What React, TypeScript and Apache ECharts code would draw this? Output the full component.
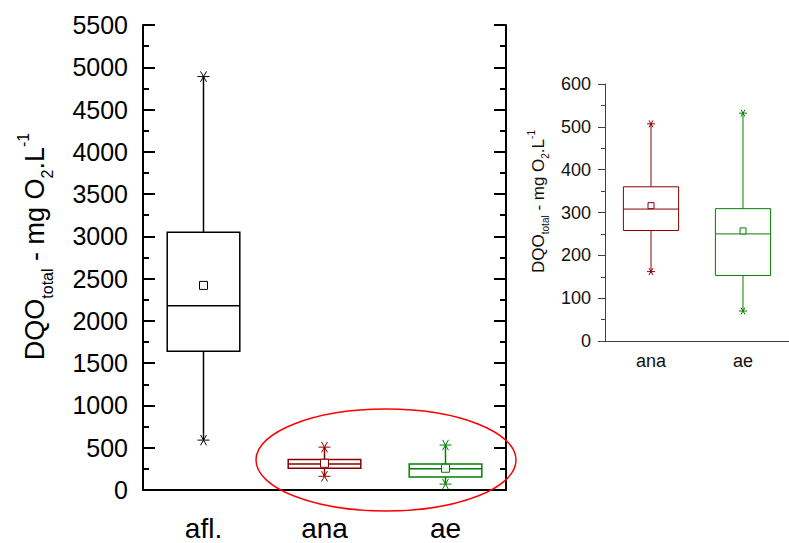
import React, { useEffect, useRef } from "react";
import * as echarts from "echarts";

const mainCategories = ["afl.", "ana", "ae"];
const insetCategories = ["ana", "ae"];
const minValues = [590, 162, 70];
const q1Values = [1640, 258, 153];
const medianValues = [2180, 308, 250];
const q3Values = [3050, 360, 309];
const maxValues = [4890, 507, 532];
const meanValues = [2420, 316, 257];
const mainTicks = { min: 0, max: 5500, interval: 500 };
const insetTicks = { min: 0, max: 600, interval: 100 };
const boxColors = ["#000000", "#8b0000", "#008000"];

const FONT = 'Arial, "Liberation Sans", sans-serif';

function makeRender(colors: string[], lw: number, star: number, sq: number) {
  return (params: any, api: any) => {
    const idx = api.value(0);
    const color = colors[params.dataIndex];
    const w = api.size([1, 0])[0] * 0.6;
    const x = api.coord([idx, 0])[0];
    const y = (k: number) => api.coord([idx, api.value(k)])[1];
    const yMin = y(1), yQ1 = y(2), yMed = y(3), yQ3 = y(4), yMax = y(5), yMean = y(6);
    const ls = { stroke: color, lineWidth: lw, fill: "none" };
    const starLines = (cy: number) => {
      const dx = star * 0.5, dy = star * 0.866;
      return [
        { type: "line", shape: { x1: x - star, y1: cy, x2: x + star, y2: cy }, style: { stroke: color, lineWidth: 1 } },
        { type: "line", shape: { x1: x - dx, y1: cy - dy, x2: x + dx, y2: cy + dy }, style: { stroke: color, lineWidth: 1 } },
        { type: "line", shape: { x1: x - dx, y1: cy + dy, x2: x + dx, y2: cy - dy }, style: { stroke: color, lineWidth: 1 } },
      ];
    };
    return {
      type: "group",
      children: [
        { type: "line", shape: { x1: x, y1: yQ3, x2: x, y2: yMax }, style: ls },
        { type: "line", shape: { x1: x, y1: yQ1, x2: x, y2: yMin }, style: ls },
        { type: "rect", shape: { x: x - w / 2, y: yQ3, width: w, height: yQ1 - yQ3 }, style: ls },
        { type: "line", shape: { x1: x - w / 2, y1: yMed, x2: x + w / 2, y2: yMed }, style: ls },
        { type: "rect", shape: { x: x - sq / 2, y: yMean - sq / 2, width: sq, height: sq }, style: { stroke: color, lineWidth: 1, fill: "#fff" } },
        ...starLines(yMax),
        ...starLines(yMin),
      ],
    };
  };
}

export default function App() {
  const ref = useRef<HTMLDivElement>(null);
  useEffect(() => {
    if (!ref.current) return;
    const chart = echarts.init(ref.current, null, { renderer: "svg" });
    const mainData = mainCategories.map((_, i) => [
      i, minValues[i], q1Values[i], medianValues[i], q3Values[i], maxValues[i], meanValues[i],
    ]);
    const insetData = insetCategories.map((_, j) => {
      const i = j + 1;
      return [j, minValues[i], q1Values[i], medianValues[i], q3Values[i], maxValues[i], meanValues[i]];
    });
    const mainName = "{a|DQO}{sub|total}{a| - mg O}{sub|2}{a|.L}{sup|-1}";
    const plain = (v: number) => String(v);
    chart.setOption({
      animation: false,
      backgroundColor: "#ffffff",
      textStyle: { fontFamily: FONT },
      grid: [
        { left: 143, right: 283, top: 25, bottom: 53 },
        { left: 605, right: -11, top: 84, bottom: 202 },
      ],
      xAxis: [
        {
          gridIndex: 0, type: "category", data: mainCategories, position: "bottom",
          axisLine: { lineStyle: { color: "#000", width: 2 } },
          axisTick: { alignWithLabel: true, inside: false, length: 12, lineStyle: { color: "#000", width: 2 } },
          axisLabel: { fontSize: 28, color: "#000", margin: 24, fontFamily: FONT },
          splitLine: { show: false },
        },
        {
          gridIndex: 0, type: "category", data: mainCategories, position: "top",
          axisLine: { lineStyle: { color: "#000", width: 2 } },
          axisTick: { alignWithLabel: true, inside: true, length: 2, lineStyle: { color: "#000", width: 2 } },
          axisLabel: { show: false },
          splitLine: { show: false },
        },
        {
          gridIndex: 1, type: "category", data: insetCategories, position: "bottom",
          axisLine: { lineStyle: { color: "#404040", width: 1 } },
          axisTick: { alignWithLabel: true, inside: false, length: 6, lineStyle: { color: "#404040", width: 1 } },
          axisLabel: { fontSize: 18, color: "#111", margin: 11, fontFamily: FONT },
          splitLine: { show: false },
        },
      ],
      yAxis: [
        {
          gridIndex: 0, type: "value", ...mainTicks, position: "left",
          axisLine: { show: true, lineStyle: { color: "#000", width: 2 } },
          axisTick: { show: true, inside: true, length: 12, lineStyle: { color: "#000", width: 2 } },
          minorTick: { show: true, splitNumber: 2, length: 6, lineStyle: { color: "#000", width: 2 } },
          axisLabel: { fontSize: 25, color: "#000", margin: 15, fontFamily: FONT, formatter: plain },
          splitLine: { show: false },
          name: mainName, nameLocation: "middle", nameRotate: 90, nameGap: 88,
          nameTextStyle: {
            padding: [0, 0, 0, 22],
            rich: {
              a: { fontSize: 27, color: "#000", fontFamily: FONT, lineHeight: 40, verticalAlign: "middle" },
              sub: { fontSize: 16, color: "#000", fontFamily: FONT, lineHeight: 20, verticalAlign: "bottom" },
              sup: { fontSize: 16, color: "#000", fontFamily: FONT, lineHeight: 20, verticalAlign: "top" },
            },
          },
        },
        {
          gridIndex: 0, type: "value", ...mainTicks, position: "right",
          axisLine: { show: true, lineStyle: { color: "#000", width: 2 } },
          axisTick: { show: true, inside: true, length: 12, lineStyle: { color: "#000", width: 2 } },
          minorTick: { show: true, splitNumber: 2, length: 6, lineStyle: { color: "#000", width: 2 } },
          axisLabel: { show: false },
          splitLine: { show: false },
        },
        {
          gridIndex: 1, type: "value", ...insetTicks, position: "left",
          axisLine: { show: true, lineStyle: { color: "#404040", width: 1 } },
          axisTick: { show: true, inside: false, length: 7, lineStyle: { color: "#404040", width: 1 } },
          minorTick: { show: true, splitNumber: 2, length: 4, lineStyle: { color: "#404040", width: 1 } },
          axisLabel: { fontSize: 18, color: "#111", margin: 14, fontFamily: FONT, formatter: plain },
          splitLine: { show: false },
          name: mainName, nameLocation: "middle", nameRotate: 90, nameGap: 55,
          nameTextStyle: {
            padding: [0, 0, 0, 22],
            rich: {
              a: { fontSize: 17, color: "#111", fontFamily: FONT, lineHeight: 24, verticalAlign: "middle" },
              sub: { fontSize: 10, color: "#111", fontFamily: FONT, lineHeight: 12, verticalAlign: "bottom" },
              sup: { fontSize: 10, color: "#111", fontFamily: FONT, lineHeight: 12, verticalAlign: "top" },
            },
          },
        },
      ],
      series: [
        {
          type: "custom", name: "main", xAxisIndex: 0, yAxisIndex: 0,
          data: mainData, encode: { x: 0, y: [1, 2, 3, 4, 5, 6] },
          renderItem: makeRender(boxColors, 1.5, 6, 8),
        },
        {
          type: "custom", name: "inset", xAxisIndex: 2, yAxisIndex: 2,
          data: insetData, encode: { x: 0, y: [1, 2, 3, 4, 5, 6] },
          renderItem: makeRender(boxColors.slice(1), 1, 4, 6),
        },
      ],
      graphic: [
        {
          type: "ellipse", shape: { cx: 386, cy: 460, rx: 130, ry: 51 },
          style: { fill: "none", stroke: "#ff0000", lineWidth: 1.5 }, z: 10,
        },
      ],
    });
    return () => chart.dispose();
  }, []);
  return (
    <div
      ref={ref}
      style={{ position: "fixed", left: 0, top: 0, width: 789, height: 543, background: "#fff" }}
    />
  );
}
